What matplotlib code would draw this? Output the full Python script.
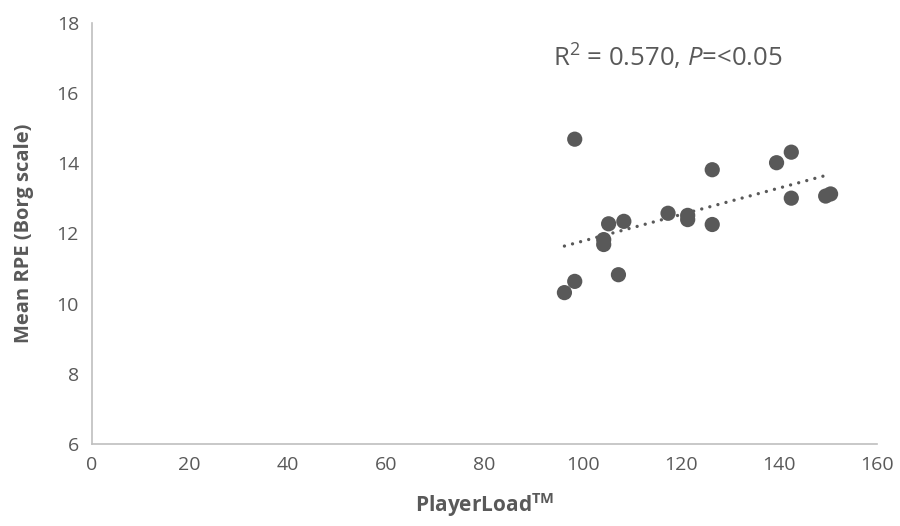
import numpy as np
import matplotlib
matplotlib.use("Agg")
import matplotlib.pyplot as plt

# PlayerLoad vs mean session RPE
player_load = [96.3, 98.4, 98.4, 107.3, 104.3, 104.3, 105.3, 108.4, 117.4,
               121.4, 121.4, 126.4, 126.4, 139.5, 142.5, 142.5, 149.5, 150.5]
mean_rpe = [10.31, 14.68, 10.63, 10.82, 11.82, 11.68, 12.27, 12.34, 12.57,
            12.51, 12.39, 13.81, 12.25, 14.01, 14.31, 13.00, 13.06, 13.12]

x_ticks = [0, 20, 40, 60, 80, 100, 120, 140, 160]
y_ticks = [6, 8, 10, 12, 14, 16, 18]

grey = "#595959"
axis_grey = "#bfbfbf"

plt.rcParams["font.family"] = ["Open Sans", "DejaVu Sans"]
plt.rcParams["mathtext.fontset"] = "custom"
plt.rcParams["mathtext.rm"] = "Open Sans"
plt.rcParams["mathtext.it"] = "Open Sans:italic"
plt.rcParams["mathtext.bf"] = "Open Sans:bold"


def main():
    fig = plt.figure(figsize=(9, 5.26), dpi=100)
    ax = fig.add_axes([0.1017, 0.156, 0.873, 0.801])

    ax.scatter(player_load, mean_rpe, s=120, color=grey, edgecolors="none", zorder=3)

    # linear trendline over the range of the data
    x = np.array(player_load)
    slope, intercept = np.polyfit(x, mean_rpe, 1)
    xs = np.array([x.min(), x.max()])
    ax.plot(xs, slope * xs + intercept, color=grey, linestyle=(0, (0.01, 2.5)),
            linewidth=2.4, dash_capstyle="round", zorder=2)

    ax.text(94, 17.0, r"R$^{2}$ = 0.570, $\it{P}$=<0.05", fontsize=18.5,
            color=grey, va="center", ha="left")

    ax.set_xlim(0, 160)
    ax.set_ylim(6, 18)
    ax.set_xticks(x_ticks)
    ax.set_yticks(y_ticks)
    ax.tick_params(length=0, labelsize=14, colors=grey, pad=9)

    for side in ["top", "right"]:
        ax.spines[side].set_visible(False)
    for side in ["left", "bottom"]:
        ax.spines[side].set_color(axis_grey)
        ax.spines[side].set_linewidth(1.2)

    ax.set_xlabel(r"PlayerLoad$^{\mathbf{TM}}$", fontsize=15, fontweight="bold",
                  color=grey, labelpad=12)
    ax.set_ylabel("Mean RPE (Borg scale)", fontsize=14.5, fontweight="bold",
                  color=grey, labelpad=16)

    fig.savefig("out.png", dpi=100)


if __name__ == "__main__":
    main()
